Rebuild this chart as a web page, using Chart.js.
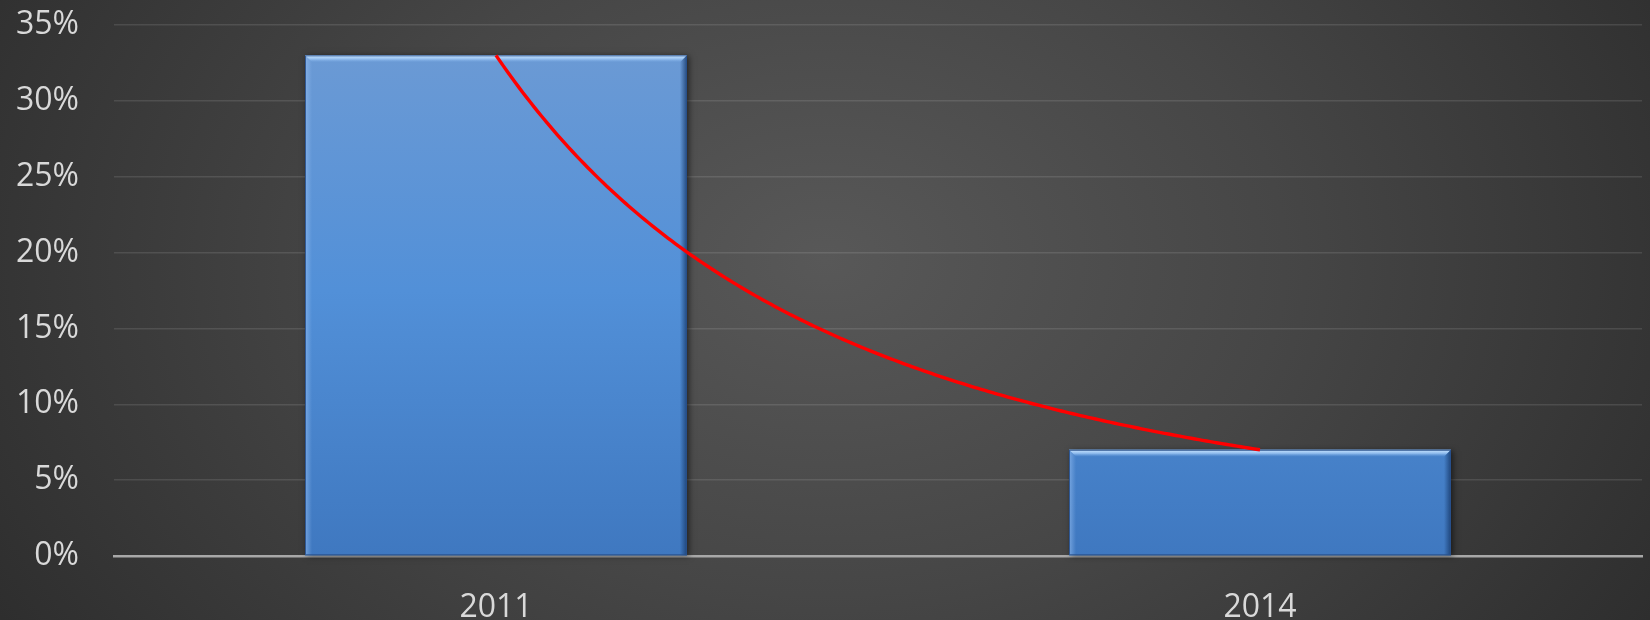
<!DOCTYPE html>
<html>
<head>
<meta charset="utf-8">
<script src="https://cdn.jsdelivr.net/npm/chart.js@4.4.1/dist/chart.umd.min.js"></script>
<style>
  html, body { margin: 0; padding: 0; }
  body {
    width: 1650px; height: 620px; overflow: hidden;
    background: radial-gradient(ellipse 62% 120% at 50% 42%, #585858 0%, #464646 45%, #2b2b2b 100%);
  }
  #wrap { position: relative; width: 1650px; height: 620px; }
</style>
</head>
<body>
<div id="wrap"><canvas id="c"></canvas></div>
<script>
// ---- data ----
const categories = ['2011', '2014'];
const values = [33, 7];              // percent
const yTickValues = [0, 5, 10, 15, 20, 25, 30, 35];
const yTickLabels = ['0%', '5%', '10%', '15%', '20%', '25%', '30%', '35%'];

const FONT = '"Open Sans", "DejaVu Sans", sans-serif';

// Power trendline (Excel style: y = a * x^b, x = 1..n) fitted from the series
const trendPlugin = {
  id: 'powerTrend',
  afterDatasetsDraw(chart) {
    const xs = chart.scales.x, ys = chart.scales.y;
    const n = values.length;
    let sx = 0, sy = 0, sxx = 0, sxy = 0;
    for (let i = 0; i < n; i++) {
      const lx = Math.log(i + 1), ly = Math.log(values[i]);
      sx += lx; sy += ly; sxx += lx * lx; sxy += lx * ly;
    }
    const b = (n * sxy - sx * sy) / (n * sxx - sx * sx);
    const lnA = (sy - b * sx) / n;
    const ctx = chart.ctx;
    ctx.save();
    ctx.beginPath();
    const steps = 200;
    for (let s = 0; s <= steps; s++) {
      const idx = (n - 1) * s / steps;
      const v = Math.exp(lnA + b * Math.log(idx + 1));
      const px = xs.getPixelForValue(idx);
      const py = ys.getPixelForValue(v);
      if (s === 0) ctx.moveTo(px, py); else ctx.lineTo(px, py);
    }
    ctx.strokeStyle = '#ff0000';
    ctx.lineWidth = 3.4;
    ctx.lineCap = 'butt';
    ctx.stroke();
    ctx.restore();
  }
};

// Bevel effect for bars
const bevelPlugin = {
  id: 'bevel',
  beforeDatasetsDraw(chart) {
    const ctx = chart.ctx;
    const meta = chart.getDatasetMeta(0);
    ctx.save();
    meta.data.forEach(bar => {
      const w = bar.width, l = bar.x - w / 2, t = bar.y, bt = bar.base;
      ctx.shadowColor = 'rgba(0,0,0,0.55)';
      ctx.shadowBlur = 6;
      ctx.shadowOffsetX = 2;
      ctx.shadowOffsetY = 1;
      ctx.fillStyle = '#3b6fb0';
      ctx.fillRect(l, t, w, bt - t);
    });
    ctx.restore();
  },
  afterDatasetsDraw(chart) {
    const ctx = chart.ctx;
    const meta = chart.getDatasetMeta(0);
    ctx.save();
    meta.data.forEach(bar => {
      const w = bar.width, l = bar.x - w / 2, r = l + w, t = bar.y, bt = bar.base;
      const e = 7;
      // top highlight
      let g = ctx.createLinearGradient(0, t, 0, t + e);
      g.addColorStop(0, 'rgba(205,232,255,1)');
      g.addColorStop(0.5, 'rgba(165,205,248,0.8)');
      g.addColorStop(1, 'rgba(120,170,230,0)');
      ctx.beginPath();
      ctx.moveTo(l, t); ctx.lineTo(r, t); ctx.lineTo(r - e, t + e); ctx.lineTo(l + e, t + e); ctx.closePath();
      ctx.fillStyle = g; ctx.fill();
      // left light edge
      g = ctx.createLinearGradient(l, 0, l + e, 0);
      g.addColorStop(0, 'rgba(150,190,240,0.6)');
      g.addColorStop(1, 'rgba(150,190,240,0)');
      ctx.beginPath();
      ctx.moveTo(l, t); ctx.lineTo(l + e, t + e); ctx.lineTo(l + e, bt); ctx.lineTo(l, bt); ctx.closePath();
      ctx.fillStyle = g; ctx.fill();
      // right dark edge
      g = ctx.createLinearGradient(r, 0, r - e, 0);
      g.addColorStop(0, 'rgba(25,60,110,0.85)');
      g.addColorStop(1, 'rgba(25,60,110,0)');
      ctx.beginPath();
      ctx.moveTo(r, t); ctx.lineTo(r - e, t + e); ctx.lineTo(r - e, bt); ctx.lineTo(r, bt); ctx.closePath();
      ctx.fillStyle = g; ctx.fill();
      // outline
      ctx.strokeStyle = 'rgba(40,80,140,0.9)';
      ctx.lineWidth = 1;
      ctx.strokeRect(l + 0.5, t + 0.5, w - 1, bt - t - 1);
    });
    ctx.restore();
  }
};

function barFill(context) {
  const chart = context.chart;
  const area = chart.chartArea;
  if (!area) return '#4f86cc';
  const g = chart.ctx.createLinearGradient(0, area.top, 0, area.bottom);
  g.addColorStop(0, '#6e9bd4');
  g.addColorStop(0.5, '#5290d8');
  g.addColorStop(1, '#3f78c0');
  return g;
}

new Chart(document.getElementById('c'), {
  type: 'bar',
  data: {
    labels: categories,
    datasets: [{
      data: values,
      backgroundColor: barFill,
      borderWidth: 0,
      barPercentage: 0.5,
      categoryPercentage: 1.0
    }]
  },
  options: {
    responsive: true,
    maintainAspectRatio: false,
    animation: false,
    devicePixelRatio: 1,
    layout: { padding: { left: 0, right: 8, top: 25, bottom: 0 } },
    plugins: { legend: { display: false }, tooltip: { enabled: false } },
    scales: {
      x: {
        grid: { display: false, drawTicks: false },
        border: { display: true, color: '#a8a8a8', width: 2.5 },
        ticks: { color: '#d9d9d9', font: { family: FONT, size: 32 }, padding: 33 },
        afterFit(scale) { scale.height = 64; }
      },
      y: {
        min: 0, max: 35,
        afterBuildTicks(scale) { scale.ticks = yTickValues.map(v => ({ value: v })); },
        grid: {
          drawTicks: false,
          color: ctx => ctx.tick && ctx.tick.value === 0 ? 'rgba(0,0,0,0)' : 'rgba(255,255,255,0.11)',
          lineWidth: 1.5
        },
        border: { display: false },
        ticks: {
          color: '#d9d9d9',
          font: { family: FONT, size: 32 },
          padding: 35,
          callback: (v) => yTickLabels[yTickValues.indexOf(v)]
        },
        afterFit(scale) { scale.width = 114; scale.paddingTop = 0; scale.paddingBottom = 0; }
      }
    }
  },
  plugins: [bevelPlugin, trendPlugin]
});
</script>
</body>
</html>
